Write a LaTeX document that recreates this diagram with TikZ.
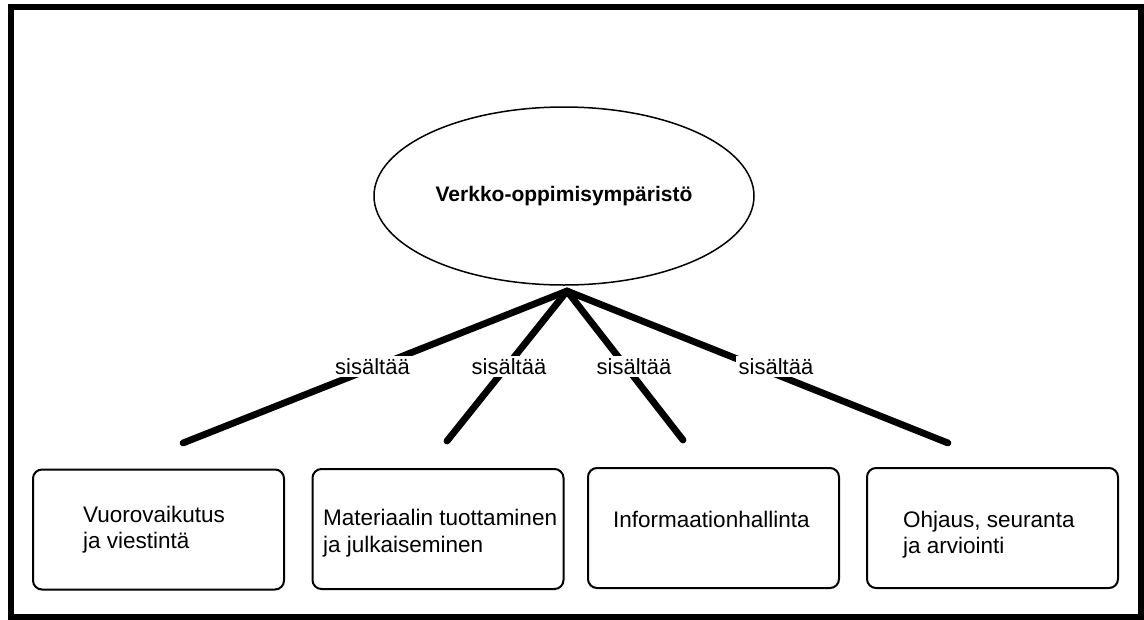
\documentclass[tikz,border=0pt]{standalone}
\usepackage{fontspec}
\setmainfont{Liberation Sans}
\usetikzlibrary{shapes.geometric}
\begin{document}
\begin{tikzpicture}[x=1pt,y=-1pt,
  frame/.style={line width=6pt},
  box/.style={draw, line width=2pt, rounded corners=9pt, inner sep=0pt, minimum width=251pt, minimum height=120pt},
  root/.style={draw, ellipse, line width=1.5pt, inner sep=0pt, minimum width=380pt, minimum height=178pt, font=\bfseries\fontsize{21}{25}\selectfont},
  txt/.style={anchor=base west, inner sep=0pt, font=\fontsize{22.5}{26}\selectfont},
  conn/.style={line width=6.8pt, line cap=round},
  lbl/.style={anchor=base, fill=white, inner sep=2.5pt, font=\fontsize{22}{26}\selectfont}]
\useasboundingbox (0,0) rectangle (1144,619);
\draw[frame] (11,7) rectangle (1140.8,617);
% root ellipse
\node[root] (root) at (564,196) {\raisebox{-3pt}{Verkko-oppimisympäristö}};
% connectors
\coordinate (apex) at (567,291);
\coordinate (e1) at (183,443);
\coordinate (e2) at (447,441);
\coordinate (e3) at (683,440);
\coordinate (e4) at (948,443);
\draw[conn] (apex) -- (e1);
\draw[conn] (apex) -- (e2);
\draw[conn] (apex) -- (e3);
\draw[conn] (apex) -- (e4);
% labels
\node[lbl] (s1) at (372.5,374) {sisältää};
\node[lbl] (s2) at (509,374) {sisältää};
\node[lbl] (s3) at (634,374) {sisältää};
\node[lbl] (s4) at (776,374) {sisältää};
% boxes
\node[box] (b1) at (158.5,529.5) {};
\node[box] (b2) at (438,529) {};
\node[box] (b3) at (713.5,528) {};
\node[box] (b4) at (992.5,528) {};
% box texts
\node[txt] (t1a) at (83,522) {Vuorovaikutus};
\node[txt] (t1b) at (83,548) {ja viestintä};
\node[txt] (t2a) at (323,525) {Materiaalin tuottaminen};
\node[txt] (t2b) at (323,552) {ja julkaiseminen};
\node[txt] (t3a) at (613,527) {Informaationhallinta};
\node[txt] (t4a) at (903,527) {Ohjaus, seuranta};
\node[txt] (t4b) at (903,553) {ja arviointi};
\end{tikzpicture}
\end{document}
